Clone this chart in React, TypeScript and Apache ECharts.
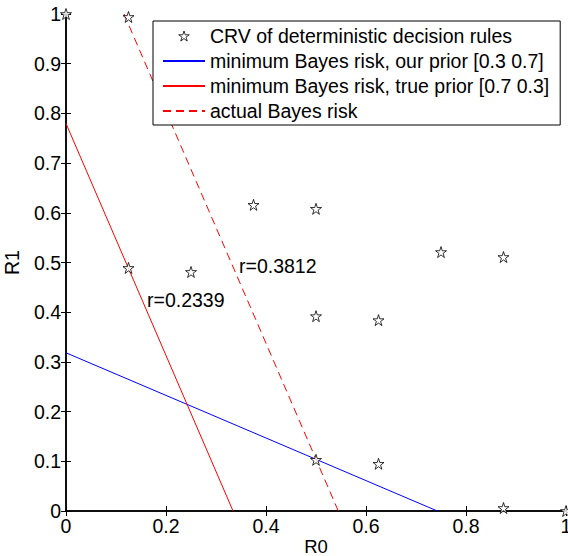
import React, { useEffect, useRef } from "react";
import * as echarts from "echarts";

// Conditional risk vectors (CRV) of deterministic decision rules
const crvR0 = [0, 0.125, 0.125, 0.25, 0.375, 0.5, 0.5, 0.625, 0.75, 0.875, 0.5, 0.625, 0.875, 1];
const crvR1 = [1, 0.994, 0.489, 0.481, 0.616, 0.608, 0.392, 0.384, 0.521, 0.511, 0.103, 0.095, 0.006, 0];

// Line endpoints
const ourPriorR0 = [0, 0.7427];
const ourPriorR1 = [0.3183, 0];
const truePriorR0 = [0, 0.3341];
const truePriorR1 = [0.7797, 0];
const actualRiskR0 = [0.116, 0.5446];
const actualRiskR1 = [1, 0];

// Text annotations
const noteTexts = ["r=0.2339", "r=0.3812"];
const noteR0 = [0.162, 0.346];
const noteR1 = [0.4245, 0.492];

const legendNames = [
  "CRV of deterministic decision rules",
  "minimum Bayes risk, our prior [0.3 0.7]",
  "minimum Bayes risk, true prior [0.7 0.3]",
  "actual Bayes risk",
];

const xTicks = { min: 0, max: 1, interval: 0.2 };
const yTicks = { min: 0, max: 1, interval: 0.1 };

const starPath =
  "path://M50,0 L61.2,34.5 L97.6,34.5 L68.2,55.9 L79.4,90.5 L50,69.1 L20.6,90.5 L31.8,55.9 L2.4,34.5 L38.8,34.5 Z";

const FONT = "'Liberation Sans', Arial, Helvetica, sans-serif";
const FS = 19.5;

const zip = (a: number[], b: number[]) => a.map((v, i) => [v, b[i]]);
const fmt = (v: number) => String(Math.round(v * 10) / 10);

export default function App() {
  const ref = useRef<HTMLDivElement>(null);
  useEffect(() => {
    document.body.style.margin = "0";
    if (!ref.current) return;
    const chart = echarts.init(ref.current, undefined, { renderer: "svg" });
    const axisLine = { show: true, lineStyle: { color: "#000", width: 1.5 } };
    const tick = { show: true, inside: true, length: 5, lineStyle: { color: "#000", width: 1 } };
    const starStyle = { color: "#fff", borderColor: "#000", borderWidth: 1 };
    const hiddenSymbol = { opacity: 0 };
    chart.setOption({
      animation: false,
      backgroundColor: "#fff",
      textStyle: { fontFamily: FONT },
      grid: {
        left: 66,
        right: 2,
        top: 14,
        bottom: 45,
        containLabel: false,
        outerBoundsMode: "none",
      },
      legend: {
        data: [
          { name: legendNames[0], itemStyle: starStyle },
          { name: legendNames[1], itemStyle: hiddenSymbol },
          { name: legendNames[2], itemStyle: hiddenSymbol },
          { name: legendNames[3], itemStyle: hiddenSymbol },
        ],
        orient: "vertical",
        left: 153,
        top: 21,
        padding: [5, 11, 4, 9],
        itemWidth: 42,
        itemHeight: 10,
        itemGap: 5,
        backgroundColor: "#fff",
        borderColor: "#000",
        borderWidth: 1,
        borderRadius: 0,
        textStyle: { fontFamily: FONT, fontSize: FS, color: "#000", lineHeight: 19 },
      },
      xAxis: [
        {
          type: "value",
          ...xTicks,
          position: "bottom",
          name: "R0",
          nameLocation: "middle",
          nameGap: 27,
          nameMoveOverlap: false,
          nameTextStyle: { fontFamily: FONT, fontSize: 18.5, color: "#000", lineHeight: 16 },
          axisLine,
          axisTick: tick,
          axisLabel: { fontFamily: FONT, fontSize: FS, color: "#000", margin: 5, formatter: fmt },
          splitLine: { show: false },
        },
        {
          type: "value",
          ...xTicks,
          position: "top",
          axisLine,
          axisTick: tick,
          axisLabel: { show: false },
          splitLine: { show: false },
        },
      ],
      yAxis: [
        {
          type: "value",
          ...yTicks,
          position: "left",
          name: "R1",
          nameLocation: "middle",
          nameGap: 44,
          nameMoveOverlap: false,
          nameTextStyle: { fontFamily: FONT, fontSize: FS, color: "#000" },
          axisLine,
          axisTick: tick,
          axisLabel: { fontFamily: FONT, fontSize: FS, color: "#000", margin: 5, formatter: fmt },
          splitLine: { show: false },
        },
        {
          type: "value",
          ...yTicks,
          position: "right",
          axisLine,
          axisTick: tick,
          axisLabel: { show: false },
          splitLine: { show: false },
        },
      ],
      series: [
        {
          name: legendNames[1],
          type: "line",
          data: zip(ourPriorR0, ourPriorR1),
          symbol: "none",
          lineStyle: { color: "#0000ff", width: 1 },
          itemStyle: { color: "#0000ff" },
          z: 2,
        },
        {
          name: legendNames[2],
          type: "line",
          data: zip(truePriorR0, truePriorR1),
          symbol: "none",
          lineStyle: { color: "#ff0000", width: 1 },
          itemStyle: { color: "#ff0000" },
          z: 2,
        },
        {
          name: legendNames[3],
          type: "line",
          data: zip(actualRiskR0, actualRiskR1),
          symbol: "none",
          lineStyle: { color: "#ff0000", width: 1, type: [8, 5] },
          itemStyle: { color: "#ff0000" },
          z: 2,
        },
        {
          name: legendNames[0],
          type: "scatter",
          data: zip(crvR0, crvR1),
          symbol: starPath,
          symbolSize: 11,
          clip: false,
          itemStyle: starStyle,
          z: 3,
        },
      ],
    });
    const notes = zip(noteR0, noteR1).map((p, i) => {
      const px = chart.convertToPixel({ gridIndex: 0 }, p) as number[];
      return {
        type: "text",
        x: px[0],
        y: px[1],
        z: 10,
        silent: true,
        style: {
          text: noteTexts[i],
          fill: "#000",
          fontFamily: FONT,
          fontSize: FS,
          align: "left",
          verticalAlign: "middle",
        },
      };
    });
    chart.setOption({ graphic: notes });
    return () => chart.dispose();
  }, []);
  return <div ref={ref} style={{ width: 568, height: 556 }} />;
}
